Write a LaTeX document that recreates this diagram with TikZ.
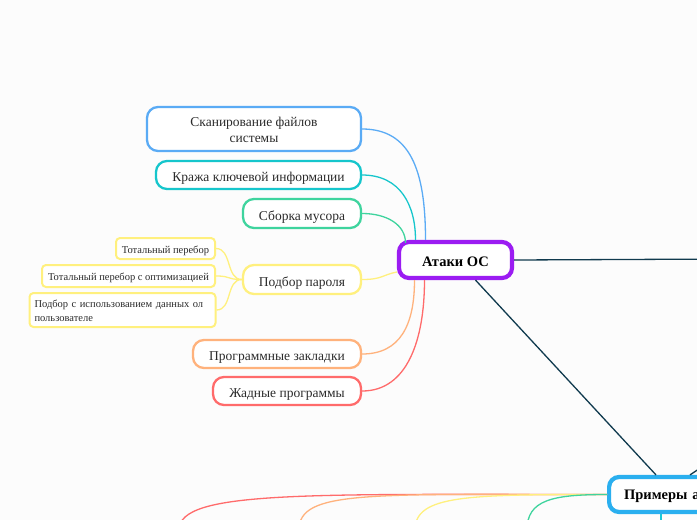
\documentclass[tikz,border=0pt]{standalone}
\usepackage{fontspec}
\setmainfont{Liberation Serif}
\usetikzlibrary{positioning}
\definecolor{bg}{HTML}{FCFCFC}
\definecolor{txt}{HTML}{2B2B2B}
\definecolor{cscan}{HTML}{5AABF5}
\definecolor{ckey}{HTML}{16C6CC}
\definecolor{cgar}{HTML}{3FD49E}
\definecolor{cyel}{HTML}{FFF07E}
\definecolor{corg}{HTML}{FFB27C}
\definecolor{cred}{HTML}{FF6B6B}
\definecolor{cpur}{HTML}{9B1CF2}
\definecolor{cprim}{HTML}{2AAFEF}
\definecolor{navy}{HTML}{103A4E}
\definecolor{ccyan}{HTML}{18C8D8}

\begin{document}
\begin{tikzpicture}[x=1pt,y=-1pt,
  topic/.style={draw,fill=white,rounded corners=11pt,line width=2.3pt,text=txt,font=\fontsize{13.5}{16}\selectfont,inner sep=0pt,text height=13.4pt,text depth=0pt},
  leaf/.style={draw=cyel,fill=white,rounded corners=4pt,line width=2pt,text=txt,font=\fontsize{10.5}{14}\selectfont,inner sep=0pt,text height=9.6pt,text depth=0pt},
  root/.style={draw,fill=white,rounded corners=10pt,line width=4.2pt,text=black,font=\fontsize{14.5}{17}\selectfont\bfseries,inner sep=0pt,text height=12pt,text depth=0pt},
  link/.style={line width=1.3pt}]
\useasboundingbox (0,0) rectangle (697,520);
\fill[bg] (0,0) rectangle (697,520);

\node[topic,draw=cscan,minimum width=214,minimum height=44,align=center,text height=27.4pt] (scan) at (254,129) {Сканирование файлов\\системы};
\node[topic,draw=ckey,minimum width=205,minimum height=28] (key) at (258.5,175) {Кража ключевой информации};
\node[topic,draw=cgar,minimum width=118,minimum height=29] (gar) at (302,213.5) {Сборка мусора};
\node[topic,draw=cyel,minimum width=118,minimum height=29] (pwd) at (302,279.5) {Подбор пароля};
\node[topic,draw=corg,minimum width=168,minimum height=28] (bug) at (277,354) {Программные закладки};
\node[topic,draw=cred,minimum width=148,minimum height=28] (greedy) at (287,391) {Жадные программы};

\node[leaf,minimum width=99,minimum height=21] (brute) at (165.5,248.5) {Тотальный перебор};
\node[leaf,minimum width=173,minimum height=22] (bropt) at (128.5,276) {Тотальный перебор с оптимизацией};
\node[leaf,minimum width=186,minimum height=34,text width=176,align=left,text height=8.6pt,text depth=14pt] (user) at (122.5,310) {Подбор с использованием данных ол\\пользователе};

\node[root,draw=cpur,minimum width=113,minimum height=36] (os) at (455.5,260) {Атаки ОС};
\node[root,draw=cprim,anchor=west,minimum height=35,text width=168,inner xsep=15pt,align=left,text height=10pt] (ex) at (607,494.5) {Примеры а};

\coordinate (right) at (730,259);
\coordinate (up) at (720,455);
\coordinate (down) at (661,540);
\coordinate (rend) at (179,530);
\coordinate (oend) at (299,530);
\coordinate (yend) at (415,530);
\coordinate (gend) at (527,530);

\draw[link,cscan] (scan.east) .. controls +(48,0) and +(0,-70) .. ([xshift=-30]os.north);
\draw[link,ckey] (key.east) .. controls +(38,0) and +(0,-35) .. ([xshift=-40]os.north);
\draw[link,cgar] (gar.east) .. controls +(25,0) and +(0,-18) .. ([xshift=-50,yshift=-3]os.north);
\draw[link,cyel] (pwd.east) .. controls +(20,0) and +(-15,3) .. ([yshift=-12]os.west);
\draw[link,corg] (bug.east) .. controls +(38,0) and +(0,45) .. ([xshift=-41]os.south);
\draw[link,cred] (greedy.east) .. controls +(45,0) and +(0,60) .. ([xshift=-31]os.south);

\draw[link,cyel] (pwd.west) .. controls +(-16,0) and +(16,0) .. (brute.east);
\draw[link,cyel] (pwd.west) .. controls +(-16,0) and +(16,0) .. (bropt.east);
\draw[link,cyel] (pwd.west) .. controls +(-16,0) and +(16,0) .. (user.east);

\draw[link,navy] (os.east) -- (right);
\draw[link,navy] ([xshift=20]os.south) -- ([xshift=49]ex.north west);
\draw[link,navy] ([xshift=83]ex.north west) -- (up);
\draw[link,ccyan] ([xshift=54]ex.south west) -- (down);

\draw[link,cred] (ex.west) .. controls +(-300,0) and +(0,-40) .. (rend);
\draw[link,corg] (ex.west) .. controls +(-240,0) and +(0,-40) .. (oend);
\draw[link,cyel] (ex.west) .. controls +(-140,0) and +(0,-35) .. (yend);
\draw[link,cgar] (ex.west) .. controls +(-55,0) and +(0,-30) .. (gend);

\end{tikzpicture}
\end{document}
